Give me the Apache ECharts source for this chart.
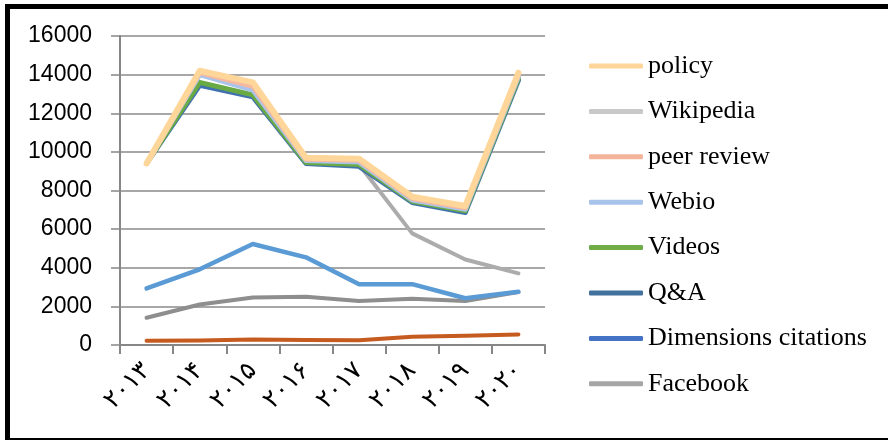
<!DOCTYPE html>
<html>
<head>
<meta charset="utf-8">
<script src="https://cdn.jsdelivr.net/npm/echarts@6/dist/echarts.min.js"></script>
<style>
  html, body { margin: 0; padding: 0; background: #fff; overflow: hidden; }
  #chart { position: absolute; left: 0; top: 0; width: 888px; height: 440px; }
  #frame { position: absolute; left: 5px; top: 4px; width: 900px; height: 439px;
           box-sizing: border-box; border: 5px solid #000; pointer-events: none; }
</style>
</head>
<body>
<div id="chart"></div>
<div id="frame"></div>
<script>
// Years, written with Arabic-Indic digits
const years = ['٢٠١٣', '٢٠١۴', '٢٠١۵', '٢٠١۶', '٢٠١٧', '٢٠١٨', '٢٠١٩', '٢٠٢٠'];

// Yearly counts per source
const policy       = [9400, 14200, 13600, 9700, 9650, 7680, 7200, 14100];
const wikipedia    = [9400, 14150, 13500, 9550, 9350, 5780, 4430, 3710];
const peerReview   = [9400, 14100, 13400, 9620, 9560, 7590, 7110, 14000];
const webio        = [9400, 14000, 13200, 9550, 9470, 7510, 7030, 13900];
const videos       = [9400, 13600, 12950, 9450, 9350, 7440, 6950, 13800];
const qa           = [9400, 13450, 12850, 9400, 9250, 7380, 6860, 13700];
const dimensions   = [2930, 3920, 5230, 4540, 3140, 3150, 2420, 2760];
const facebook     = [1410, 2100, 2460, 2500, 2280, 2400, 2280, 2740];
const otherSource  = [224, 230, 290, 260, 250, 430, 480, 550];

const yTicks = { min: 0, max: 16000, interval: 2000 };

const legendOrder = ['policy', 'Wikipedia', 'peer review', 'Webio', 'Videos', 'Q&A',
                     'Dimensions citations', 'Facebook'];

function line(name, data, lineColor, keyColor, width) {
  return {
    name: name,
    type: 'line',
    data: data,
    symbol: 'none',
    smooth: false,
    animation: false,
    itemStyle: { color: keyColor },
    lineStyle: { color: lineColor, width: width, cap: 'round', join: 'round' },
    emphasis: { disabled: true }
  };
}

const chart = echarts.init(document.getElementById('chart'), null, { renderer: 'canvas' });
chart.setOption({
  backgroundColor: '#ffffff',
  animation: false,
  grid: { left: 120, right: 343, top: 36, bottom: 95, containLabel: false },
  legend: {
    orient: 'vertical',
    left: 584,
    top: 46,
    data: legendOrder,
    icon: 'roundRect',
    itemWidth: 54,
    itemHeight: 5,
    itemGap: 15.4,
    selectedMode: false,
    textStyle: {
      fontFamily: '"Liberation Serif", "Times New Roman", serif',
      fontSize: 26,
      lineHeight: 30,
      color: '#000'
    }
  },
  xAxis: {
    type: 'category',
    data: years,
    boundaryGap: true,
    axisLine: { show: true, lineStyle: { color: '#878787', width: 2 } },
    axisTick: { show: true, length: 9, interval: 0, lineStyle: { color: '#878787', width: 2 } },
    axisLabel: {
      interval: 0,
      rotate: 45,
      margin: 22,
      fontFamily: '"DejaVu Sans", "Noto Sans", sans-serif',
      fontSize: 25,
      color: '#000'
    },
    splitLine: { show: false }
  },
  yAxis: {
    type: 'value',
    min: yTicks.min,
    max: yTicks.max,
    interval: yTicks.interval,
    axisLine: { show: true, lineStyle: { color: '#878787', width: 2 } },
    axisTick: { show: true, length: 9, lineStyle: { color: '#878787', width: 1.5 } },
    axisLabel: {
      margin: 28,
      formatter: function (v) { return String(v); },
      fontFamily: '"Liberation Sans", Arial, sans-serif',
      fontSize: 23,
      color: '#000'
    },
    splitLine: { show: true, lineStyle: { color: '#8a8a8a', width: 1.5 } }
  },
  series: [
    line('other', otherSource, '#c65b1f', '#c65b1f', 4),
    line('Facebook', facebook, '#8e8e8e', '#a5a5a5', 4),
    line('Dimensions citations', dimensions, '#5b9bd5', '#4472c4', 4.5),
    line('Wikipedia', wikipedia, '#acacac', '#c9c9c9', 4),
    line('Q&A', qa, '#3f72ae', '#41719c', 5),
    line('Videos', videos, '#6aaa44', '#70ad47', 5),
    line('Webio', webio, '#a9c4eb', '#a9c4eb', 5),
    line('peer review', peerReview, '#f5b8a0', '#f4b49a', 5),
    line('policy', policy, '#ffd699', '#ffd699', 6)
  ]
});
</script>
</body>
</html>
